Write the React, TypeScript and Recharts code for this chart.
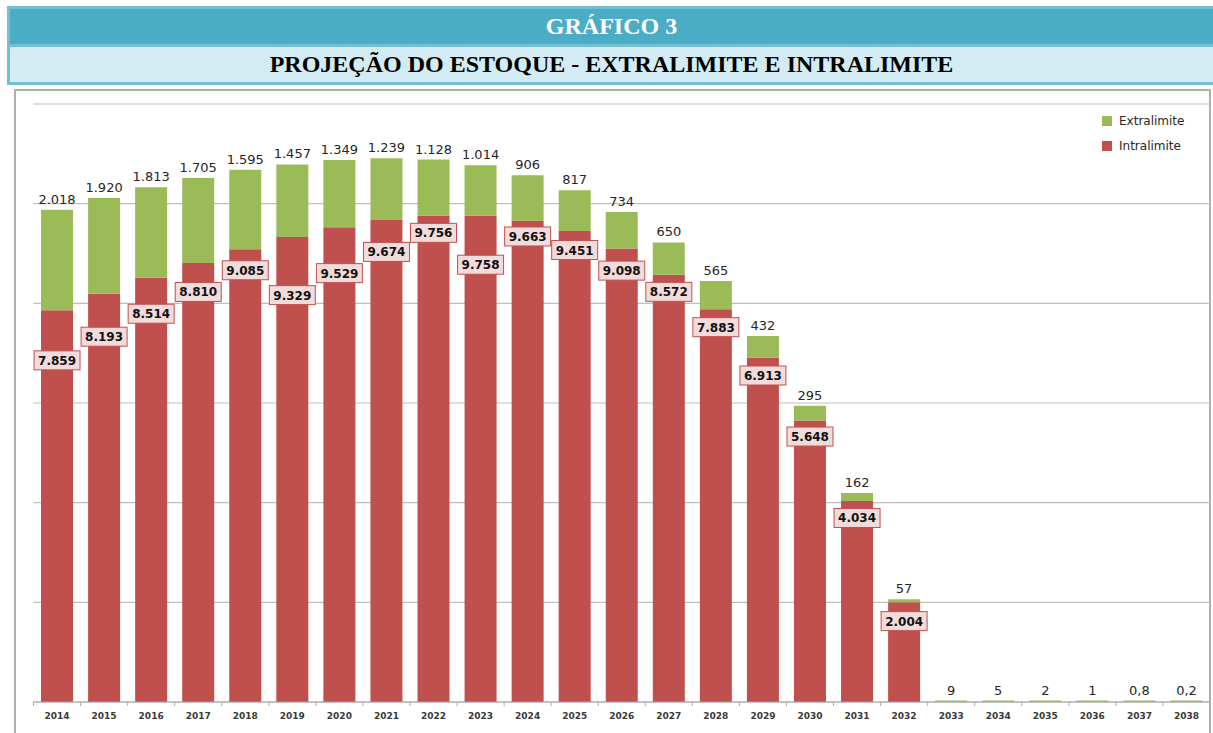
import { Bar, BarChart, CartesianGrid, LabelList, Legend, XAxis, YAxis } from 'recharts';

const YEARS = [
    '2014', '2015', '2016', '2017', '2018', '2019', '2020', '2021', '2022', '2023', '2024', '2025', '2026',
    '2027', '2028', '2029', '2030', '2031', '2032', '2033', '2034', '2035', '2036', '2037', '2038',
];
const INTRALIMITE = [
    7859, 8193, 8514, 8810, 9085, 9329, 9529, 9674, 9756, 9758, 9663, 9451, 9098, 8572, 7883, 6913, 5648, 4034, 2004,
    0, 0, 0, 0, 0, 0,
];
const EXTRALIMITE = [
    2018, 1920, 1813, 1705, 1595, 1457, 1349, 1239, 1128, 1014, 906, 817, 734, 650, 565, 432, 295, 162, 57,
    9, 5, 2, 1, 0.8, 0.2,
];
const Y_TICKS = [0, 2000, 4000, 6000, 8000, 10000, 12000];

// how far below the top of the red segment each boxed label sits (manual placement in the original)
const LABEL_DROP = [50, 43, 36, 29, 21, 58, 46, 32, 17, 49, 16, 19, 22, 17, 18, 18, 16, 17, 19];

const GREEN = '#9bbb59';
const RED = '#c0504d';
const FONT = '"DejaVu Sans", Verdana, sans-serif';
const SERIF = '"Liberation Serif", "Times New Roman", serif';

const CHART_W = 1194;
const CHART_H = 642;
const MARGIN = { top: 13, right: 0, left: 17.5, bottom: 6 };
const STEP = (CHART_W - MARGIN.left - MARGIN.right) / YEARS.length;

const data = YEARS.map((year, i) => ({
    year,
    intralimite: INTRALIMITE[i],
    extralimite: EXTRALIMITE[i],
}));

function fmt(v: number) {
    const [int, dec] = String(v).split('.');
    const grouped = int.replace(/\B(?=(\d{3})+(?!\d))/g, '.');
    return dec ? `${grouped},${dec}` : grouped;
}

function XTick(props: any) {
    const { x, y, payload, index } = props;
    const last = index === YEARS.length - 1;
    return (
        <g>
            <line x1={x - STEP / 2} x2={x - STEP / 2} y1={y} y2={y + 4} stroke="#b0b0b0" />
            {last && <line x1={x + STEP / 2} x2={x + STEP / 2} y1={y} y2={y + 4} stroke="#b0b0b0" />}
            <text x={x} y={y + 17} textAnchor="middle" fontSize={9} fontWeight="bold" fontFamily={FONT} fill="#3a3a3a">
                {payload.value}
            </text>
        </g>
    );
}

function getBox(props: any) {
    const vb = props.viewBox || {};
    return {
        x: Number(props.x ?? vb.x),
        y: Number(props.y ?? vb.y),
        width: Number(props.width ?? vb.width),
    };
}

function ExtraLabel(props: any) {
    const { x, y, width } = getBox(props);
    return (
        <text x={x + width / 2} y={y - 6} textAnchor="middle" fontSize={13} fontFamily={FONT} fill="#262626">
            {fmt(props.value)}
        </text>
    );
}

function IntraLabel(props: any) {
    const value = Number(props.value);
    if (!value) return null;
    const { x, y, width } = getBox(props);
    const index = typeof props.index === 'number' ? props.index : INTRALIMITE.indexOf(value);
    const cy = y + (LABEL_DROP[index] ?? 18);
    const cx = x + width / 2;
    return (
        <g>
            <rect x={cx - 23} y={cy - 9.5} width={46} height={19} fill="#f2dcdb" stroke={RED} strokeWidth={1} />
            <text x={cx} y={cy + 4.5} textAnchor="middle" fontSize={12} fontWeight="bold" fontFamily={FONT} fill="#111">
                {fmt(value)}
            </text>
        </g>
    );
}

function LegendBox() {
    const items = [
        { name: 'Extralimite', color: GREEN },
        { name: 'Intralimite', color: RED },
    ];
    return (
        <div style={{ fontFamily: FONT, fontSize: 12, color: '#262626' }}>
            {items.map((it) => (
                <div key={it.name} style={{ display: 'flex', alignItems: 'center', height: 25 }}>
                    <span style={{ width: 10, height: 10, background: it.color, marginRight: 7, display: 'inline-block' }} />
                    {it.name}
                </div>
            ))}
        </div>
    );
}

export default function App() {
    return (
        <div style={{ position: 'fixed', left: 0, top: 0, width: 1213, height: 733, overflow: 'hidden', background: '#fff' }}>
            <div
                style={{
                    position: 'absolute', left: 7, top: 6, width: 1206, height: 79,
                    border: '3px solid #74c0d3', borderRight: 'none', boxSizing: 'border-box',
                    fontFamily: SERIF, fontWeight: 'bold', fontSize: 24,
                }}
            >
                <div
                    style={{
                        height: 35, background: '#4bacc6', color: '#fff',
                        display: 'flex', alignItems: 'center', justifyContent: 'center',
                    }}
                >
                    GRÁFICO 3
                </div>
                <div
                    style={{
                        height: 35, background: '#d3ebf2', color: '#000', borderTop: '3px solid #74c0d3',
                        display: 'flex', alignItems: 'center', justifyContent: 'center',
                    }}
                >
                    PROJEÇÃO DO ESTOQUE - EXTRALIMITE E INTRALIMITE
                </div>
            </div>
            <div
                style={{
                    position: 'absolute', left: 14, top: 89, width: 1197, height: 700,
                    border: '2px solid #b0b0b0', boxSizing: 'border-box',
                }}
            >
                <BarChart width={CHART_W} height={CHART_H} data={data} margin={MARGIN} barCategoryGap="16%">
                    <CartesianGrid vertical={false} stroke="#bfbfbf" strokeWidth={1.2} />
                    <XAxis
                        dataKey="year"
                        axisLine={{ stroke: '#a6a6a6' }}
                        tickLine={false}
                        tickSize={0}
                        tickMargin={0}
                        height={25}
                        interval={0}
                        tick={<XTick />}
                    />
                    <YAxis hide domain={[0, 12000]} ticks={Y_TICKS} />
                    <Legend
                        verticalAlign="middle"
                        align="center"
                        layout="vertical"
                        content={() => <LegendBox />}
                        wrapperStyle={{ position: 'absolute', top: 17, left: 1086, width: 110, height: 50 }}
                    />
                    <Bar dataKey="intralimite" name="Intralimite" stackId="a" fill={RED} isAnimationActive={false}>
                        <LabelList dataKey="intralimite" content={<IntraLabel />} />
                    </Bar>
                    <Bar
                        dataKey="extralimite"
                        name="Extralimite"
                        stackId="a"
                        fill={GREEN}
                        minPointSize={1.5}
                        isAnimationActive={false}
                    >
                        <LabelList dataKey="extralimite" content={<ExtraLabel />} />
                    </Bar>
                </BarChart>
            </div>
        </div>
    );
}
